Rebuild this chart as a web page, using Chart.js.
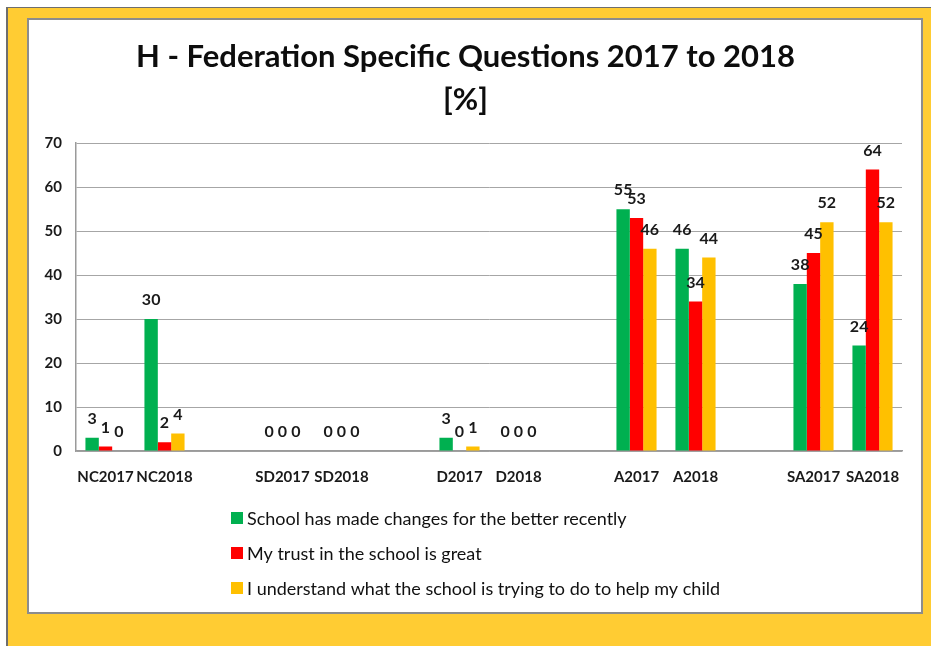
<!DOCTYPE html>
<html>
<head>
<meta charset="utf-8">
<script src="https://cdn.jsdelivr.net/npm/chart.js@4.4.1/dist/chart.umd.min.js"></script>
<style>
    body { margin: 0; background: #ffffff; width: 931px; height: 646px; overflow: hidden; }
    #frame {
        position: absolute; left: 6px; top: 7px; width: 925px; height: 639px;
        background: #FFCC33; border-left: 2px solid #6e6e6e; border-top: 1px solid #6e6e6e;
    }
    #panel {
        position: absolute; left: 27px; top: 18px; width: 896px; height: 596px;
        background: #ffffff; border: 2px solid #8c8c8c; box-sizing: border-box;
    }
    #panel canvas { display: block; }
</style>
</head>
<body>
<div id="frame"></div>
<div id="panel"><canvas id="fed-chart" width="892" height="592"></canvas></div>
<script>
// Categories (empty strings are the gaps between the groups)
const categories = ['NC2017', 'NC2018', '', 'SD2017', 'SD2018', '', 'D2017', 'D2018', '', 'A2017', 'A2018', '', 'SA2017', 'SA2018'];

// Series values in %
const changesBetter = [3, 30, null, 0, 0, null, 3, 0, null, 55, 46, null, 38, 24];
const trustGreat = [1, 2, null, 0, 0, null, 0, 0, null, 53, 34, null, 45, 64];
const understandHelp = [0, 4, null, 0, 0, null, 1, 0, null, 46, 44, null, 52, 52];

const seriesNames = [
    'School has made changes for the better recently',
    'My trust in the school is great',
    'I understand what the school is trying to do to help my child'
];
const seriesColors = ['#00B050', '#FF0000', '#FFC000'];

const yTicks = [0, 10, 20, 30, 40, 50, 60, 70];

// Draws the value above every bar (0 values too)
const valueLabels = {
    id: 'valueLabels',
    afterDatasetsDraw(chart) {
        const ctx = chart.ctx;
        ctx.save();
        ctx.font = 'bold 16px Lato';
        ctx.fillStyle = '#1a1a1a';
        ctx.textAlign = 'center';
        ctx.textBaseline = 'bottom';
        chart.data.datasets.forEach((ds, i) => {
            const meta = chart.getDatasetMeta(i);
            meta.data.forEach((bar, j) => {
                const v = ds.data[j];
                if (v === null || v === undefined) return;
                ctx.fillText(String(v), bar.x, bar.y - 11);
            });
        });
        ctx.restore();
    }
};

// Vertical legend under the plot, like the original
const stackedLegend = {
    id: 'stackedLegend',
    afterDraw(chart, args, opts) {
        const ctx = chart.ctx;
        ctx.save();
        ctx.font = '18px Lato';
        ctx.textAlign = 'left';
        ctx.textBaseline = 'middle';
        chart.data.datasets.forEach((ds, i) => {
            const y = opts.top + i * opts.rowGap;
            ctx.fillStyle = ds.backgroundColor;
            ctx.fillRect(opts.left, y - 6, 12, 12);
            ctx.fillStyle = '#111111';
            ctx.fillText(ds.label, opts.left + 16, y + 1);
        });
        ctx.restore();
    }
};

const ctx = document.getElementById('fed-chart').getContext('2d');
const chart = new Chart(ctx, {
    type: 'bar',
    data: {
        labels: categories,
        datasets: [
            { label: seriesNames[0], data: changesBetter, backgroundColor: seriesColors[0] },
            { label: seriesNames[1], data: trustGreat, backgroundColor: seriesColors[1] },
            { label: seriesNames[2], data: understandHelp, backgroundColor: seriesColors[2] }
        ]
    },
    options: {
        responsive: false,
        animation: false,
        datasets: {
            bar: { categoryPercentage: 0.68, barPercentage: 1.0 }
        },
        layout: {
            padding: { left: 0, right: 19, top: 0, bottom: 116 }
        },
        scales: {
            x: {
                grid: { display: false, drawTicks: false },
                border: { color: '#9a9a9a', width: 1.5 },
                ticks: {
                    color: '#1a1a1a',
                    font: { family: 'Lato', size: 15, weight: 'bold' },
                    padding: 17,
                    maxRotation: 0,
                    autoSkip: false
                },
                afterFit(scale) { scale.height = 45; }
            },
            y: {
                min: 0,
                max: 70,
                afterBuildTicks(scale) { scale.ticks = yTicks.map(v => ({ value: v })); },
                grid: { color: '#a6a6a6', lineWidth: 1, drawTicks: false },
                border: { color: '#9a9a9a', width: 1.5 },
                ticks: {
                    color: '#1a1a1a',
                    font: { family: 'Lato', size: 15, weight: 'bold' },
                    padding: 14
                },
                afterFit(scale) { scale.width = 47; }
            }
        },
        plugins: {
            title: {
                display: true,
                text: ['H - Federation Specific Questions 2017 to 2018', '[%]'],
                color: '#0d0d0d',
                font: { family: 'Lato', size: 31, weight: 'bold', lineHeight: 1.39 },
                padding: { top: 15, bottom: 22 }
            },
            legend: { display: false },
            tooltip: { enabled: false },
            stackedLegend: { left: 202, top: 498, rowGap: 35 }
        }
    },
    plugins: [valueLabels, stackedLegend]
});
</script>
</body>
</html>
